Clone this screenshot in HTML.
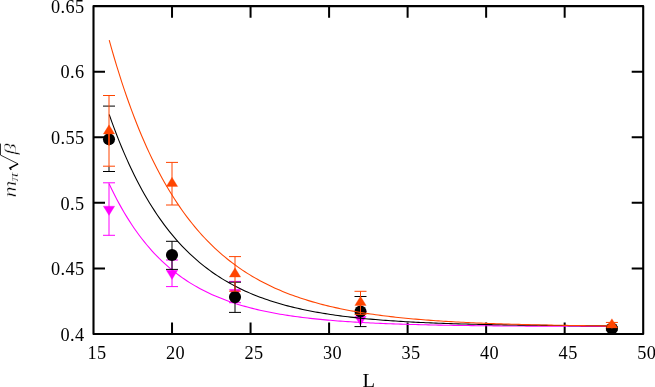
<!DOCTYPE html>
<html><head><meta charset="utf-8"><title>plot</title>
<style>html,body{margin:0;padding:0;background:#fff;}body{width:655px;height:387px;overflow:hidden;font-family:"Liberation Serif",serif;}svg{display:block;will-change:transform;}</style>
</head><body>
<svg width="655" height="387" viewBox="0 0 655 387">
<path d="M172.03,334.0V322.50M172.03,6.15V17.65M250.56,334.0V322.50M250.56,6.15V17.65M329.09,334.0V322.50M329.09,6.15V17.65M407.61,334.0V322.50M407.61,6.15V17.65M486.14,334.0V322.50M486.14,6.15V17.65M564.67,334.0V322.50M564.67,6.15V17.65M93.5,268.43H105.00M643.2,268.43H631.70M93.5,202.86H105.00M643.2,202.86H631.70M93.5,137.29H105.00M643.2,137.29H631.70M93.5,71.72H105.00M643.2,71.72H631.70" stroke="#000" stroke-width="2" fill="none"/>
<rect x="93.5" y="6.15" width="549.70" height="327.85" fill="none" stroke="#000" stroke-width="2.1" stroke-linejoin="round"/>
<path d="M109.00,182.80V235.30M103.00,182.80H115.00M103.00,235.30H115.00" stroke="#ff00ff" stroke-width="1" fill="none"/>
<path d="M109.00,215.38L103.30,206.15H114.70Z" fill="#ff00ff" stroke="#ff00ff" stroke-width="0.3"/>
<path d="M172.00,260.00V286.60M166.00,260.00H178.00M166.00,286.60H178.00" stroke="#ff00ff" stroke-width="1" fill="none"/>
<path d="M172.00,279.58L166.30,270.35H177.70Z" fill="#ff00ff" stroke="#ff00ff" stroke-width="0.3"/>
<path d="M235.00,281.40V302.70M229.00,281.40H241.00M229.00,302.70H241.00" stroke="#ff00ff" stroke-width="1" fill="none"/>
<path d="M235.00,298.58L229.30,289.35H240.70Z" fill="#ff00ff" stroke="#ff00ff" stroke-width="0.3"/>
<path d="M360.50,311.30v6M354.50,311.30H366.50" stroke="#ff00ff" stroke-width="1" fill="none"/>
<path d="M360.50,325.48L354.80,316.25H366.20Z" fill="#ff00ff" stroke="#ff00ff" stroke-width="0.3"/>
<polyline points="109.21,183.91 111.72,189.20 114.23,194.29 116.74,199.17 119.26,203.87 121.77,208.38 124.28,212.72 126.80,216.90 129.31,220.91 131.82,224.77 134.33,228.48 136.85,232.05 139.36,235.48 141.87,238.78 144.39,241.96 146.90,245.02 149.41,247.96 151.93,250.79 154.44,253.52 156.95,256.14 159.46,258.67 161.98,261.10 164.49,263.44 167.00,265.69 169.52,267.86 172.03,269.95 174.54,271.96 177.05,273.90 179.57,275.77 182.08,277.57 184.59,279.30 187.11,280.97 189.62,282.58 192.13,284.12 194.64,285.62 197.16,287.06 199.67,288.44 202.18,289.78 204.70,291.06 207.21,292.31 209.72,293.50 212.24,294.66 214.75,295.77 217.26,296.84 219.77,297.87 222.29,298.87 224.80,299.83 227.31,300.76 229.83,301.65 232.34,302.51 234.85,303.34 237.36,304.14 239.88,304.92 242.39,305.66 244.90,306.38 247.42,307.07 249.93,307.74 252.44,308.39 254.95,309.01 257.47,309.61 259.98,310.19 262.49,310.75 265.01,311.29 267.52,311.81 270.03,312.32 272.55,312.80 275.06,313.27 277.57,313.72 280.08,314.16 282.60,314.58 285.11,314.99 287.62,315.38 290.14,315.76 292.65,316.12 295.16,316.48 297.67,316.82 300.19,317.15 302.70,317.46 305.21,317.77 307.73,318.07 310.24,318.35 312.75,318.63 315.26,318.90 317.78,319.15 320.29,319.40 322.80,319.64 325.32,319.88 327.83,320.10 330.34,320.32 332.86,320.52 335.37,320.73 337.88,320.92 340.39,321.11 342.91,321.29 345.42,321.47 347.93,321.64 350.45,321.80 352.96,321.96 355.47,322.11 357.98,322.26 360.50,322.40 363.01,322.54 365.52,322.68 368.04,322.80 370.55,322.93 373.06,323.05 375.57,323.17 378.09,323.28 380.60,323.39 383.11,323.49 385.63,323.59 388.14,323.69 390.65,323.79 393.17,323.88 395.68,323.97 398.19,324.05 400.70,324.13 403.22,324.21 405.73,324.29 408.24,324.37 410.76,324.44 413.27,324.51 415.78,324.58 418.29,324.64 420.81,324.70 423.32,324.77 425.83,324.82 428.35,324.88 430.86,324.94 433.37,324.99 435.88,325.04 438.40,325.09 440.91,325.14 443.42,325.19 445.94,325.23 448.45,325.27 450.96,325.32 453.47,325.36 455.99,325.40 458.50,325.43 461.01,325.47 463.53,325.51 466.04,325.54 468.55,325.57 471.07,325.61 473.58,325.64 476.09,325.67 478.60,325.70 481.12,325.72 483.63,325.75 486.14,325.78 488.66,325.80 491.17,325.83 493.68,325.85 496.19,325.88 498.71,325.90 501.22,325.92 503.73,325.94 506.25,325.96 508.76,325.98 511.27,326.00 513.78,326.02 516.30,326.03 518.81,326.05 521.32,326.07 523.84,326.08 526.35,326.10 528.86,326.11 531.38,326.13 533.89,326.14 536.40,326.16 538.91,326.17 541.43,326.18 543.94,326.19 546.45,326.21 548.97,326.22 551.48,326.23 553.99,326.24 556.50,326.25 559.02,326.26 561.53,326.27 564.04,326.28 566.56,326.29 569.07,326.30 571.58,326.31 574.09,326.31 576.61,326.32 579.12,326.33 581.63,326.34 584.15,326.34 586.66,326.35 589.17,326.36 591.69,326.36 594.20,326.37 596.71,326.38 599.22,326.38 601.74,326.39 604.25,326.39 606.76,326.40 609.28,326.40 611.79,326.41" fill="none" stroke="#ff00ff" stroke-width="1.08"/>
<path d="M109.00,166.50V171.50M103.00,106.10H115.00M103.00,171.50H115.00" stroke="#000000" stroke-width="1" fill="none"/>
<circle cx="109.00" cy="139.20" r="6.05" fill="#000000"/>
<path d="M172.00,241.30V269.40M166.00,241.30H178.00M166.00,269.40H178.00" stroke="#000000" stroke-width="1" fill="none"/>
<circle cx="172.00" cy="255.00" r="6.05" fill="#000000"/>
<path d="M235.00,282.20V312.40M229.00,282.20H241.00M229.00,312.40H241.00" stroke="#000000" stroke-width="1" fill="none"/>
<circle cx="235.00" cy="297.10" r="6.05" fill="#000000"/>
<path d="M360.50,296.50V326.60M354.50,296.50H366.50M354.50,326.60H366.50" stroke="#000000" stroke-width="1" fill="none"/>
<circle cx="360.50" cy="311.50" r="6.05" fill="#000000"/>
<path d="M611.90,327.00V330.00M605.90,327.00H617.90M605.90,330.00H617.90" stroke="#000000" stroke-width="1" fill="none"/>
<circle cx="611.90" cy="328.50" r="6.05" fill="#000000"/>
<polyline points="109.21,114.51 111.72,121.57 114.23,128.39 116.74,134.98 119.26,141.34 121.77,147.48 124.28,153.41 126.80,159.14 129.31,164.67 131.82,170.02 134.33,175.18 136.85,180.17 139.36,184.98 141.87,189.64 144.39,194.14 146.90,198.48 149.41,202.68 151.93,206.74 154.44,210.66 156.95,214.45 159.46,218.11 161.98,221.65 164.49,225.07 167.00,228.38 169.52,231.57 172.03,234.66 174.54,237.65 177.05,240.53 179.57,243.32 182.08,246.02 184.59,248.63 187.11,251.15 189.62,253.59 192.13,255.95 194.64,258.22 197.16,260.43 199.67,262.56 202.18,264.62 204.70,266.61 207.21,268.54 209.72,270.40 212.24,272.20 214.75,273.95 217.26,275.63 219.77,277.26 222.29,278.84 224.80,280.36 227.31,281.84 229.83,283.27 232.34,284.65 234.85,285.98 237.36,287.27 239.88,288.52 242.39,289.73 244.90,290.90 247.42,292.03 249.93,293.13 252.44,294.18 254.95,295.21 257.47,296.20 259.98,297.16 262.49,298.09 265.01,298.98 267.52,299.85 270.03,300.69 272.55,301.51 275.06,302.29 277.57,303.05 280.08,303.79 282.60,304.51 285.11,305.20 287.62,305.86 290.14,306.51 292.65,307.14 295.16,307.74 297.67,308.33 300.19,308.89 302.70,309.44 305.21,309.97 307.73,310.49 310.24,310.99 312.75,311.47 315.26,311.93 317.78,312.38 320.29,312.82 322.80,313.24 325.32,313.65 327.83,314.05 330.34,314.43 332.86,314.80 335.37,315.16 337.88,315.51 340.39,315.85 342.91,316.17 345.42,316.49 347.93,316.80 350.45,317.09 352.96,317.38 355.47,317.66 357.98,317.92 360.50,318.18 363.01,318.44 365.52,318.68 368.04,318.92 370.55,319.14 373.06,319.36 375.57,319.58 378.09,319.79 380.60,319.99 383.11,320.18 385.63,320.37 388.14,320.55 390.65,320.73 393.17,320.90 395.68,321.06 398.19,321.23 400.70,321.38 403.22,321.53 405.73,321.68 408.24,321.82 410.76,321.95 413.27,322.09 415.78,322.21 418.29,322.34 420.81,322.46 423.32,322.57 425.83,322.69 428.35,322.80 430.86,322.90 433.37,323.00 435.88,323.10 438.40,323.20 440.91,323.29 443.42,323.38 445.94,323.47 448.45,323.55 450.96,323.63 453.47,323.71 455.99,323.79 458.50,323.86 461.01,323.94 463.53,324.01 466.04,324.07 468.55,324.14 471.07,324.20 473.58,324.26 476.09,324.32 478.60,324.38 481.12,324.44 483.63,324.49 486.14,324.54 488.66,324.59 491.17,324.64 493.68,324.69 496.19,324.74 498.71,324.78 501.22,324.82 503.73,324.87 506.25,324.91 508.76,324.94 511.27,324.98 513.78,325.02 516.30,325.06 518.81,325.09 521.32,325.12 523.84,325.16 526.35,325.19 528.86,325.22 531.38,325.25 533.89,325.28 536.40,325.30 538.91,325.33 541.43,325.36 543.94,325.38 546.45,325.41 548.97,325.43 551.48,325.45 553.99,325.47 556.50,325.50 559.02,325.52 561.53,325.54 564.04,325.56 566.56,325.58 569.07,325.59 571.58,325.61 574.09,325.63 576.61,325.65 579.12,325.66 581.63,325.68 584.15,325.69 586.66,325.71 589.17,325.72 591.69,325.74 594.20,325.75 596.71,325.76 599.22,325.77 601.74,325.79 604.25,325.80 606.76,325.81 609.28,325.82 611.79,325.83" fill="none" stroke="#000000" stroke-width="1.08"/>
<path d="M109.00,95.50V166.20M103.00,95.50H115.00M103.00,166.20H115.00" stroke="#ff4500" stroke-width="1" fill="none"/>
<path d="M109.00,124.82L103.30,134.05H114.70Z" fill="#ff4500" stroke="#ff4500" stroke-width="0.3" stroke-linejoin="miter"/>
<path d="M172.00,162.40V205.00M166.00,162.40H178.00M166.00,205.00H178.00" stroke="#ff4500" stroke-width="1" fill="none"/>
<path d="M172.00,177.22L166.30,186.45H177.70Z" fill="#ff4500" stroke="#ff4500" stroke-width="0.3" stroke-linejoin="miter"/>
<path d="M235.00,256.60V291.20M229.00,256.60H241.00M229.00,291.20H241.00" stroke="#ff4500" stroke-width="1" fill="none"/>
<path d="M235.00,267.82L229.30,277.05H240.70Z" fill="#ff4500" stroke="#ff4500" stroke-width="0.3" stroke-linejoin="miter"/>
<path d="M360.50,291.30V314.30M354.50,291.30H366.50M354.50,314.30H366.50" stroke="#ff4500" stroke-width="1" fill="none"/>
<path d="M360.50,296.22L354.80,305.45H366.20Z" fill="#ff4500" stroke="#ff4500" stroke-width="0.3" stroke-linejoin="miter"/>
<path d="M611.90,322.45v6M605.90,322.45H617.90" stroke="#ff4500" stroke-width="1" fill="none"/>
<path d="M611.90,318.72L606.20,327.95H617.60Z" fill="#ff4500" stroke="#ff4500" stroke-width="0.3" stroke-linejoin="miter"/>
<path d="M109,133V145.5" stroke="#ff4500" stroke-width="1.4" fill="none"/>
<polyline points="109.21,40.14 111.72,49.09 114.23,57.75 116.74,66.12 119.26,74.21 121.77,82.04 124.28,89.62 126.80,96.95 129.31,104.04 131.82,110.90 134.33,117.53 136.85,123.96 139.36,130.18 141.87,136.20 144.39,142.02 146.90,147.66 149.41,153.12 151.93,158.40 154.44,163.52 156.95,168.48 159.46,173.27 161.98,177.92 164.49,182.42 167.00,186.78 169.52,191.00 172.03,195.09 174.54,199.05 177.05,202.89 179.57,206.60 182.08,210.21 184.59,213.70 187.11,217.08 189.62,220.35 192.13,223.53 194.64,226.61 197.16,229.59 199.67,232.48 202.18,235.28 204.70,238.00 207.21,240.63 209.72,243.18 212.24,245.65 214.75,248.05 217.26,250.38 219.77,252.63 222.29,254.82 224.80,256.93 227.31,258.99 229.83,260.98 232.34,262.91 234.85,264.79 237.36,266.61 239.88,268.37 242.39,270.08 244.90,271.74 247.42,273.34 249.93,274.90 252.44,276.42 254.95,277.89 257.47,279.31 259.98,280.69 262.49,282.03 265.01,283.33 267.52,284.59 270.03,285.82 272.55,287.01 275.06,288.16 277.57,289.28 280.08,290.36 282.60,291.41 285.11,292.44 287.62,293.43 290.14,294.39 292.65,295.32 295.16,296.23 297.67,297.11 300.19,297.97 302.70,298.79 305.21,299.60 307.73,300.38 310.24,301.14 312.75,301.87 315.26,302.59 317.78,303.28 320.29,303.95 322.80,304.61 325.32,305.24 327.83,305.86 330.34,306.46 332.86,307.04 335.37,307.60 337.88,308.15 340.39,308.68 342.91,309.20 345.42,309.70 347.93,310.18 350.45,310.66 352.96,311.11 355.47,311.56 357.98,311.99 360.50,312.41 363.01,312.82 365.52,313.22 368.04,313.60 370.55,313.98 373.06,314.34 375.57,314.69 378.09,315.03 380.60,315.37 383.11,315.69 385.63,316.00 388.14,316.31 390.65,316.60 393.17,316.89 395.68,317.17 398.19,317.44 400.70,317.71 403.22,317.96 405.73,318.21 408.24,318.45 410.76,318.69 413.27,318.92 415.78,319.14 418.29,319.35 420.81,319.56 423.32,319.77 425.83,319.96 428.35,320.15 430.86,320.34 433.37,320.52 435.88,320.70 438.40,320.87 440.91,321.04 443.42,321.20 445.94,321.35 448.45,321.51 450.96,321.65 453.47,321.80 455.99,321.94 458.50,322.07 461.01,322.21 463.53,322.33 466.04,322.46 468.55,322.58 471.07,322.70 473.58,322.81 476.09,322.92 478.60,323.03 481.12,323.14 483.63,323.24 486.14,323.34 488.66,323.43 491.17,323.53 493.68,323.62 496.19,323.71 498.71,323.79 501.22,323.88 503.73,323.96 506.25,324.04 508.76,324.11 511.27,324.19 513.78,324.26 516.30,324.33 518.81,324.40 521.32,324.47 523.84,324.53 526.35,324.60 528.86,324.66 531.38,324.72 533.89,324.77 536.40,324.83 538.91,324.89 541.43,324.94 543.94,324.99 546.45,325.04 548.97,325.09 551.48,325.14 553.99,325.18 556.50,325.23 559.02,325.27 561.53,325.31 564.04,325.36 566.56,325.40 569.07,325.43 571.58,325.47 574.09,325.51 576.61,325.54 579.12,325.58 581.63,325.61 584.15,325.65 586.66,325.68 589.17,325.71 591.69,325.74 594.20,325.77 596.71,325.80 599.22,325.83 601.74,325.85 604.25,325.88 606.76,325.90 609.28,325.93 611.79,325.95" fill="none" stroke="#ff4500" stroke-width="1.08"/>
<g font-family="Liberation Serif, serif" font-size="18.3" fill="#000" letter-spacing="0.4">
<text x="97.00" y="359.1" text-anchor="middle">15</text>
<text x="175.53" y="359.1" text-anchor="middle">20</text>
<text x="254.06" y="359.1" text-anchor="middle">25</text>
<text x="332.59" y="359.1" text-anchor="middle">30</text>
<text x="411.11" y="359.1" text-anchor="middle">35</text>
<text x="489.64" y="359.1" text-anchor="middle">40</text>
<text x="568.17" y="359.1" text-anchor="middle">45</text>
<text x="646.70" y="359.1" text-anchor="middle">50</text>
<text x="84.6" y="340.70" text-anchor="end">0.4</text>
<text x="84.6" y="275.13" text-anchor="end">0.45</text>
<text x="84.6" y="209.56" text-anchor="end">0.5</text>
<text x="84.6" y="143.99" text-anchor="end">0.55</text>
<text x="84.6" y="78.42" text-anchor="end">0.6</text>
<text x="84.6" y="12.85" text-anchor="end">0.65</text>
</g>
<text transform="translate(362.6,386.7) scale(1.08,1)" font-family="Liberation Serif, serif" font-size="19" fill="#000">L</text>
<g transform="translate(15.9,197) rotate(-90)" font-family="Liberation Serif, serif" fill="#000">
<text transform="translate(-0.5,0) scale(1.30,1)" font-size="18" font-style="italic" stroke="#fff" stroke-width="0.45" vector-effect="non-scaling-stroke">m</text>
<text transform="translate(15.6,2.3) scale(1.42,1)" font-size="12.5" font-style="italic" stroke="#fff" stroke-width="0.3" vector-effect="non-scaling-stroke">π</text>
<path d="M27.2,-4.6L28.9,-6L33.1,2.2" fill="none" stroke="#000" stroke-width="1.5" stroke-linejoin="miter"/>
<path d="M33.1,2.2L41.9,-15.4H53.4" fill="none" stroke="#000" stroke-width="0.8"/>
<text transform="translate(42.2,0) scale(1.3,1)" font-size="17.5" font-style="italic" stroke="#fff" stroke-width="0.45" vector-effect="non-scaling-stroke">β</text>
</g>
</svg>
</body></html>
